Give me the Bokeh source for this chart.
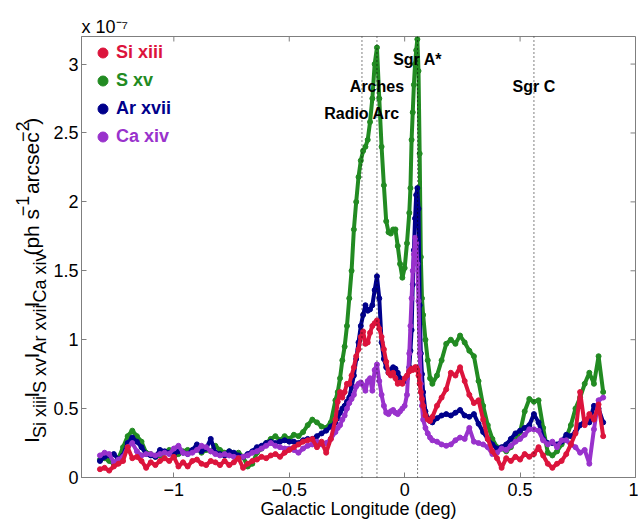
import math
from bokeh.plotting import figure
from bokeh.layouts import row
from bokeh.models import (Range1d, FixedTicker, CustomJSTickFormatter, Span, Label,
                          Legend, LegendItem)
from bokeh.core.properties import value
from bokeh.embed import file_html
from bokeh.resources import INLINE

# ---------------- data (intensities in units of 1e-7 ph s^-1 arcsec^-2) ----------------
longitude = [
    -1.32, -1.30, -1.28, -1.26, -1.24, -1.22, -1.20, -1.18, -1.16, -1.14,
    -1.12, -1.10, -1.08, -1.06, -1.04, -1.02, -1.00, -0.98, -0.96, -0.94,
    -0.92, -0.90, -0.88, -0.86, -0.84, -0.82, -0.80, -0.78, -0.76, -0.74,
    -0.72, -0.70, -0.68, -0.66, -0.64, -0.62, -0.60, -0.58, -0.56, -0.54,
    -0.52, -0.50, -0.48, -0.46, -0.44, -0.42, -0.40, -0.38, -0.36, -0.34,
    -0.32, -0.30,
    -0.29, -0.28, -0.27, -0.26, -0.25, -0.24, -0.23, -0.22, -0.21, -0.20,
    -0.19, -0.18, -0.17, -0.16, -0.15, -0.14, -0.13, -0.12, -0.11, -0.10,
    -0.09, -0.08, -0.07, -0.06, -0.05, -0.04, -0.03, -0.02, -0.01, 0.00,
    0.01, 0.02,
    0.025, 0.030, 0.035, 0.040, 0.045, 0.050, 0.055, 0.060, 0.065, 0.070,
    0.075, 0.080,
    0.09, 0.10, 0.11, 0.12,
    0.14, 0.16, 0.18, 0.20, 0.22, 0.24, 0.26, 0.28, 0.30, 0.32,
    0.34, 0.36, 0.38, 0.40, 0.42, 0.44, 0.46, 0.48, 0.50, 0.52,
    0.54, 0.56, 0.58, 0.60, 0.62, 0.64, 0.66, 0.68, 0.70, 0.72,
    0.74, 0.76, 0.78, 0.80, 0.82, 0.84, 0.86,
]

si_xiii = [
    0.06, 0.07, 0.05, 0.08, 0.10, 0.12, 0.22, 0.14, 0.15, 0.12,
    0.07, 0.11, 0.09, 0.12, 0.14, 0.12, 0.15, 0.08, 0.11, 0.08,
    0.12, 0.13, 0.10, 0.09, 0.12, 0.11, 0.09, 0.12, 0.09, 0.11,
    0.14, 0.07, 0.10, 0.12, 0.13, 0.15, 0.14, 0.16, 0.17, 0.15,
    0.18, 0.20, 0.22, 0.24, 0.26, 0.27, 0.28, 0.22, 0.26, 0.18,
    0.28, 0.42,
    0.55, 0.62, 0.58, 0.62, 0.68, 0.68, 0.74, 0.80, 0.88, 0.93,
    1.02, 1.06, 0.97, 0.98, 1.05, 1.10, 1.12, 1.14, 1.08, 1.02,
    0.93, 0.84, 0.76, 0.74, 0.76, 0.72, 0.68, 0.69, 0.68, 0.72,
    0.74, 0.77,
    0.78, 0.79, 0.78, 0.79, 0.80, 0.80, 0.78, 0.74, 0.68, 0.62,
    0.57, 0.52,
    0.45, 0.42, 0.41, 0.44,
    0.52, 0.58, 0.64, 0.76, 0.74, 0.80, 0.70, 0.60, 0.54, 0.56,
    0.42, 0.28, 0.19, 0.14, 0.07, 0.14, 0.12, 0.15, 0.13, 0.17,
    0.15, 0.17, 0.22, 0.16, 0.10, 0.07, 0.10, 0.12, 0.17, 0.24,
    0.32, 0.62, 0.38, 0.46, 0.42, 0.53, 0.30,
]

s_xv = [
    0.13, 0.14, 0.12, 0.10, 0.14, 0.22, 0.30, 0.34, 0.30, 0.26,
    0.18, 0.17, 0.15, 0.16, 0.18, 0.20, 0.15, 0.17, 0.19, 0.20,
    0.19, 0.21, 0.18, 0.20, 0.19, 0.23, 0.20, 0.18, 0.19, 0.17,
    0.18, 0.15, 0.08, 0.10, 0.18, 0.21, 0.25, 0.28, 0.30, 0.27,
    0.30, 0.28, 0.31, 0.30, 0.33, 0.38, 0.42, 0.40, 0.37, 0.36,
    0.40, 0.56,
    0.62, 0.72, 0.85, 0.95, 1.10, 1.30, 1.50, 1.80, 2.00, 2.18,
    2.30, 2.37, 2.40, 2.45, 2.58, 2.75, 3.00, 3.12, 2.75, 2.40,
    2.12, 1.86, 1.78, 1.77, 1.80, 1.80, 1.68, 1.55, 1.45, 1.52,
    1.70, 1.92,
    2.10, 2.45, 2.65, 2.85, 3.00, 3.10, 3.18, 2.95, 2.35, 1.60,
    1.30, 1.18,
    1.00, 0.85, 0.72, 0.68,
    0.74, 0.85, 0.97, 1.00, 0.97, 1.03, 0.98, 0.92, 0.88, 0.70,
    0.52, 0.38, 0.28, 0.22, 0.21, 0.19, 0.22, 0.27, 0.33, 0.48,
    0.57, 0.55, 0.56, 0.36, 0.18, 0.16, 0.19, 0.24, 0.29, 0.38,
    0.50, 0.58, 0.68, 0.76, 0.68, 0.88, 0.62,
]

ar_xvii = [
    0.12, 0.15, 0.16, 0.17, 0.13, 0.16, 0.25, 0.29, 0.26, 0.22,
    0.17, 0.16, 0.15, 0.20, 0.19, 0.18, 0.17, 0.19, 0.18, 0.17,
    0.20, 0.24, 0.19, 0.21, 0.28, 0.18, 0.17, 0.16, 0.19, 0.18,
    0.16, 0.15, 0.17, 0.19, 0.22, 0.23, 0.25, 0.26, 0.25, 0.26,
    0.27, 0.26, 0.26, 0.25, 0.27, 0.28, 0.28, 0.30, 0.32, 0.34,
    0.37, 0.40,
    0.43, 0.47, 0.50, 0.52, 0.55, 0.58, 0.66, 0.74, 0.86, 0.98,
    1.10, 1.18, 1.25, 1.21, 1.22, 1.25, 1.36, 1.46, 1.30, 0.98,
    0.86, 0.80, 0.76, 0.78, 0.80, 0.79, 0.76, 0.72, 0.70, 0.70,
    0.72, 0.80,
    0.92, 1.07, 1.40, 1.65, 1.88, 2.05, 2.10, 1.95, 1.25, 0.90,
    0.75, 0.62,
    0.48, 0.43, 0.41, 0.40,
    0.43, 0.45, 0.46, 0.45, 0.47, 0.49, 0.45, 0.44, 0.46, 0.39,
    0.33, 0.28, 0.24, 0.21, 0.22, 0.24, 0.28, 0.32, 0.34, 0.36,
    0.38, 0.46, 0.40, 0.28, 0.25, 0.25, 0.24, 0.26, 0.31, 0.30,
    0.33, 0.38, 0.41, 0.40, 0.52, 0.50, 0.40,
]

ca_xiv = [
    0.16, 0.18, 0.17, 0.11, 0.13, 0.15, 0.22, 0.25, 0.19, 0.16,
    0.17, 0.17, 0.16, 0.17, 0.18, 0.17, 0.21, 0.23, 0.18, 0.17,
    0.18, 0.20, 0.23, 0.22, 0.19, 0.17, 0.16, 0.17, 0.16, 0.15,
    0.14, 0.15, 0.16, 0.18, 0.19, 0.21, 0.23, 0.25, 0.23, 0.22,
    0.21, 0.21, 0.20, 0.18, 0.21, 0.23, 0.24, 0.26, 0.24, 0.25,
    0.28, 0.33,
    0.36, 0.38, 0.42, 0.45, 0.50, 0.54, 0.57, 0.60, 0.66, 0.68,
    0.69, 0.67, 0.63, 0.70, 0.72, 0.63, 0.78, 0.82, 0.70, 0.60,
    0.52, 0.47, 0.46, 0.48, 0.49, 0.47, 0.46, 0.48, 0.50, 0.52,
    0.60, 0.90,
    1.10, 1.30, 1.50, 1.62, 1.74, 1.70, 1.55, 1.28, 0.90, 0.68,
    0.52, 0.42,
    0.36, 0.32, 0.29, 0.27,
    0.26, 0.24, 0.23, 0.24, 0.27, 0.29, 0.28, 0.36, 0.26, 0.25,
    0.24, 0.22, 0.17, 0.18, 0.21, 0.20, 0.23, 0.26, 0.28, 0.31,
    0.35, 0.35, 0.34, 0.27, 0.24, 0.26, 0.22, 0.27, 0.27, 0.24,
    0.22, 0.18, 0.20, 0.10, 0.35, 0.56, 0.58,
]

series_names = ["Si xiii", "S xv", "Ar xvii", "Ca xiv"]
series_colors = ["#DC143C", "#228B22", "#00008B", "#9932CC"]

feature_names = ["Radio Arc", "Arches", "Sgr A*", "Sgr C"]
feature_longitude = [-0.185, -0.12, 0.056, 0.56]
feature_label_y = [2.64, 2.84, 3.03, 2.84]

x_ticks = [-1, -0.5, 0, 0.5, 1]
y_ticks = [0, 0.5, 1, 1.5, 2, 2.5, 3]
X_MIN, X_MAX = -1.4, 1.0
Y_MIN, Y_MAX = 0.0, 3.2
exponent_text = "x 10\u207b\u2077"

FONT = "Liberation Sans"
AXC = "#7f7f7f"

# canvas geometry (pixels): frame left 78, top 36, right 635, bottom 477
LEFT_W = 50
MAIN_W = 638 - LEFT_W
H = 524
FRAME_W = 635 - 78
FRAME_H = 477 - 36
TICK_PX = 5

# ---------------- main figure ----------------
p = figure(width=MAIN_W, height=H, x_range=Range1d(X_MIN, X_MAX),
           y_range=Range1d(Y_MIN, Y_MAX), output_backend="svg", toolbar_location=None,
           min_border_left=78 - LEFT_W, min_border_right=638 - 635, min_border_top=36,
           min_border_bottom=524 - 477)
p.xgrid.visible = False
p.ygrid.visible = False
p.outline_line_color = AXC

# exponent shown as the plot title, sitting on the top-left corner of the box
p.title.text = exponent_text
p.title.align = "left"
p.title.offset = 0
p.title.standoff = 0
p.title.text_font = FONT
p.title.text_font_size = "18px"
p.title.text_font_style = "normal"
p.title.text_color = "black"

fmt = CustomJSTickFormatter(code="return String(tick).replace('-', '\u2212');")
for ax, tks in ((p.xaxis[0], x_ticks), (p.yaxis[0], y_ticks)):
    ax.ticker = FixedTicker(ticks=tks)
    ax.formatter = fmt
    ax.axis_line_color = AXC
    ax.major_tick_line_color = AXC
    ax.minor_tick_line_color = None
    ax.major_tick_in = TICK_PX
    ax.major_tick_out = 0
    ax.major_label_text_font = FONT
    ax.major_label_text_font_size = "18px"
    ax.major_label_text_color = "black"
p.xaxis[0].major_label_standoff = 5
p.yaxis[0].major_label_standoff = 3
p.xaxis[0].axis_label = "Galactic Longitude (deg)"
p.xaxis[0].axis_label_text_font = FONT
p.xaxis[0].axis_label_text_font_size = "18px"
p.xaxis[0].axis_label_text_font_style = "normal"
p.xaxis[0].axis_label_text_color = "black"
p.xaxis[0].axis_label_standoff = 0

# mirrored ticks on the top and right edges of the box
dy_tick = TICK_PX * (Y_MAX - Y_MIN) / FRAME_H
dx_tick = TICK_PX * (X_MAX - X_MIN) / FRAME_W
p.segment(x0=x_ticks, y0=[Y_MAX] * len(x_ticks), x1=x_ticks,
          y1=[Y_MAX - dy_tick] * len(x_ticks), line_color=AXC, line_width=1)
p.segment(x0=[X_MAX] * len(y_ticks), y0=y_ticks, x1=[X_MAX - dx_tick] * len(y_ticks),
          y1=y_ticks, line_color=AXC, line_width=1)

data_series = [si_xiii, s_xv, ar_xvii, ca_xiv]
draw_order = [1, 2, 3, 0]
scatter_r = {}
for k in draw_order:
    p.line(longitude, data_series[k], line_color=series_colors[k], line_width=4)
    scatter_r[k] = p.scatter(longitude, data_series[k], marker="circle", size=5,
                             fill_color=series_colors[k], line_color=series_colors[k])

for name, lon, ly in zip(feature_names, feature_longitude, feature_label_y):
    p.add_layout(Span(location=lon, dimension="height", line_color="black",
                      line_dash="1 3", line_width=1))
    p.add_layout(Label(x=lon, y=ly, text=name, text_align="center", text_baseline="alphabetic",
                       text_font=FONT, text_font_size="16px", text_font_style="bold",
                       text_color="black"))

for i in range(4):
    leg = Legend(items=[LegendItem(label=series_names[i], renderers=[scatter_r[i]])],
                 location=(9, 412.5 - 28 * i), padding=0, margin=0, spacing=0,
                 glyph_width=25, glyph_height=25, label_standoff=1,
                 label_text_font=FONT, label_text_font_size="18px",
                 label_text_font_style="bold", label_text_color=series_colors[i],
                 label_height=25, background_fill_alpha=0, border_line_alpha=0)
    p.add_layout(leg)

# ---------------- left strip: rotated y label with sub/superscripts ----------------
left = figure(width=LEFT_W, height=H, x_range=Range1d(0, LEFT_W), y_range=Range1d(0, H),
              output_backend="svg", toolbar_location=None, x_axis_type=None,
              y_axis_type=None, min_border=0)
left.grid.visible = False
left.outline_line_color = None

AW = {' ': 278, 'I': 278, 'S': 667, 'i': 222, 'x': 500, 'v': 500, 'A': 667, 'r': 333,
      'C': 722, 'a': 556, '(': 333, ')': 333, 'p': 556, 'h': 556, 's': 500, 'e': 556,
      'c': 500, '\u2212': 584, '1': 556, '2': 556}


def tw(s, size):
    return sum(AW[c] for c in s) / 1000.0 * size


MAIN_FS, SUB_FS = 21, 18
pieces = [("I", "m"), ("Si xiii", "b"), (" I", "m"), ("S xv", "b"), (" I", "m"),
          ("Ar xvii", "b"), (" I", "m"), ("Ca xiv", "b"), (" (ph s", "m"), ("\u22121", "p"),
          (" arcsec", "m"), ("\u22122", "p"), (")", "m")]
groups = {"m": ([], [], []), "b": ([], [], []), "p": ([], [], [])}
base_x = 31
shift = {"m": 0, "b": 8, "p": -9}
pos = H - 483
for txt, kind in pieces:
    size = MAIN_FS if kind == "m" else SUB_FS
    lead = len(txt) - len(txt.lstrip(" "))
    pos += tw(" " * lead, size)
    body = txt.lstrip(" ")
    gx, gy, gt = groups[kind]
    gx.append(base_x + shift[kind])
    gy.append(pos)
    gt.append(body)
    pos += tw(body, size)
for kind, (gx, gy, gt) in groups.items():
    size = MAIN_FS if kind == "m" else SUB_FS
    left.text(x=gx, y=gy, text=gt, angle=math.pi / 2, text_font=value(FONT),
              text_font_size=value(f"{size}px"), text_align="left",
              text_baseline="alphabetic", text_color="black")

layout = row(left, p, spacing=0)
open("out.html", "w").write(file_html(layout, INLINE))
